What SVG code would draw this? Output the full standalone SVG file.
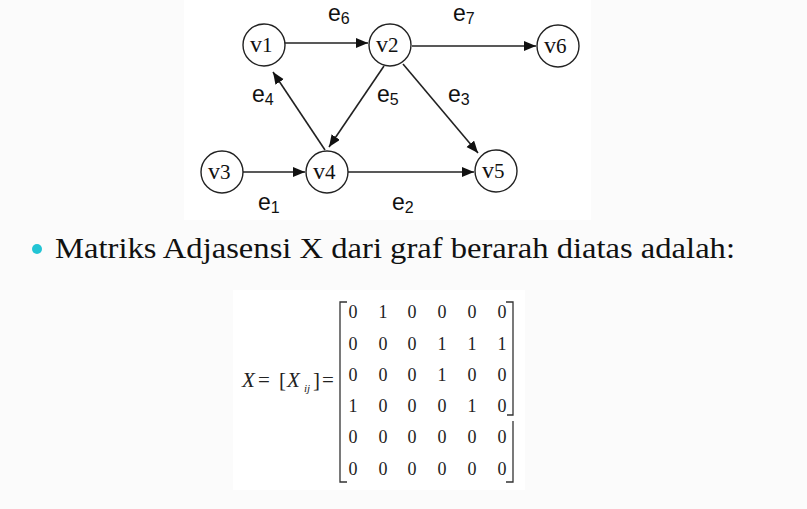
<svg xmlns="http://www.w3.org/2000/svg" width="807" height="509" viewBox="0 0 807 509">
<style>
.node circle{fill:#fff;stroke:#222;stroke-width:1.4}
.vl{font-family:"Liberation Serif",serif;font-size:24px;fill:#111}
.vs{font-size:21px}
.el{font-family:"Liberation Sans",sans-serif;font-size:23px;fill:#111}
.es{font-size:16px}
.edge{stroke:#222;stroke-width:1.6;fill:none;marker-end:url(#ah)}
.m{font-family:"Liberation Serif",serif;font-size:18px;fill:#222;text-anchor:middle}
.eq{font-family:"Liberation Serif",serif;fill:#222}
.br{stroke:#333;stroke-width:1.3;fill:none}
</style>
<defs>
<marker id="ah" markerWidth="13" markerHeight="11" refX="12" refY="5" orient="auto" markerUnits="userSpaceOnUse">
<path d="M0,0 L12,5 L0,10 z" fill="#111"/>
</marker>
</defs>
<rect width="807" height="509" fill="#fbfbfb"/>
<rect x="184" y="0" width="407" height="220" fill="#fff"/>
<rect x="233" y="290" width="292" height="200" fill="#fff"/>

<g id="connectors">
<line class="edge" x1="285" y1="43" x2="368" y2="43"/>
<line class="edge" x1="412" y1="46" x2="536" y2="46"/>
<line class="edge" x1="243" y1="172" x2="305" y2="172"/>
<line class="edge" x1="348" y1="172" x2="474" y2="172"/>
<line class="edge" x1="384" y1="66" x2="329" y2="147"/>
<line class="edge" x1="325" y1="150" x2="273" y2="72"/>
<line class="edge" x1="403" y1="64" x2="478" y2="153"/>
</g>

<g id="edge-labels">
<text class="el" x="328" y="21">e<tspan class="es" dy="3">6</tspan></text>
<text class="el" x="453" y="21">e<tspan class="es" dy="3">7</tspan></text>
<text class="el" x="252" y="102">e<tspan class="es" dy="3">4</tspan></text>
<text class="el" x="377" y="102">e<tspan class="es" dy="3">5</tspan></text>
<text class="el" x="448" y="102">e<tspan class="es" dy="3">3</tspan></text>
<text class="el" x="258" y="210">e<tspan class="es" dy="3">1</tspan></text>
<text class="el" x="392" y="210">e<tspan class="es" dy="3">2</tspan></text>
</g>

<g id="v1" class="node"><circle cx="264" cy="45" r="21"/><text class="vl" x="250" y="52">v<tspan class="vs">1</tspan></text></g>
<g id="v2" class="node"><circle cx="390" cy="45" r="21"/><text class="vl" x="376" y="52">v<tspan class="vs">2</tspan></text></g>
<g id="v6" class="node"><circle cx="558" cy="46" r="21"/><text class="vl" x="544" y="53">v<tspan class="vs">6</tspan></text></g>
<g id="v3" class="node"><circle cx="222" cy="172" r="21"/><text class="vl" x="208" y="179">v<tspan class="vs">3</tspan></text></g>
<g id="v4" class="node"><circle cx="327" cy="172" r="21"/><text class="vl" x="313" y="179">v<tspan class="vs">4</tspan></text></g>
<g id="v5" class="node"><circle cx="496" cy="171" r="21"/><text class="vl" x="482" y="178">v<tspan class="vs">5</tspan></text></g>

<g id="bullet-text">
<circle cx="37" cy="249" r="5" fill="#22c4d4"/>
<text x="55" y="258" font-family="Liberation Serif, serif" font-size="29" fill="#111" textLength="680" lengthAdjust="spacingAndGlyphs">Matriks Adjasensi X dari graf berarah diatas adalah:</text>
</g>

<g id="matrix">
<text class="eq" x="242" y="387" style="font-size:21px;font-style:italic">X</text>
<text class="eq" x="258" y="387" style="font-size:21px">=</text>
<text class="eq" x="279" y="387" style="font-size:21px">[</text>
<text class="eq" x="287" y="387" style="font-size:21px;font-style:italic">X</text>
<text class="eq" x="304" y="392" style="font-size:11px;font-style:italic">ij</text>
<text class="eq" x="313" y="387" style="font-size:21px">]</text>
<text class="eq" x="322" y="387" style="font-size:21px">=</text>
<path class="br" d="M347,302 H340 V482 H347"/>
<path class="br" d="M506,302 H513 V415 H507 M513,421 V482 H506"/>
<g>
<text class="m" x="353" y="318">0</text><text class="m" x="383" y="318">1</text><text class="m" x="412" y="318">0</text><text class="m" x="442" y="318">0</text><text class="m" x="472" y="318">0</text><text class="m" x="502" y="318">0</text>
<text class="m" x="353" y="350">0</text><text class="m" x="383" y="350">0</text><text class="m" x="412" y="350">0</text><text class="m" x="442" y="350">1</text><text class="m" x="472" y="350">1</text><text class="m" x="502" y="350">1</text>
<text class="m" x="353" y="381">0</text><text class="m" x="383" y="381">0</text><text class="m" x="412" y="381">0</text><text class="m" x="442" y="381">1</text><text class="m" x="472" y="381">0</text><text class="m" x="502" y="381">0</text>
<text class="m" x="353" y="412">1</text><text class="m" x="383" y="412">0</text><text class="m" x="412" y="412">0</text><text class="m" x="442" y="412">0</text><text class="m" x="472" y="412">1</text><text class="m" x="502" y="412">0</text>
<text class="m" x="353" y="443">0</text><text class="m" x="383" y="443">0</text><text class="m" x="412" y="443">0</text><text class="m" x="442" y="443">0</text><text class="m" x="472" y="443">0</text><text class="m" x="502" y="443">0</text>
<text class="m" x="353" y="475">0</text><text class="m" x="383" y="475">0</text><text class="m" x="412" y="475">0</text><text class="m" x="442" y="475">0</text><text class="m" x="472" y="475">0</text><text class="m" x="502" y="475">0</text>
</g>
</g>
</svg>
